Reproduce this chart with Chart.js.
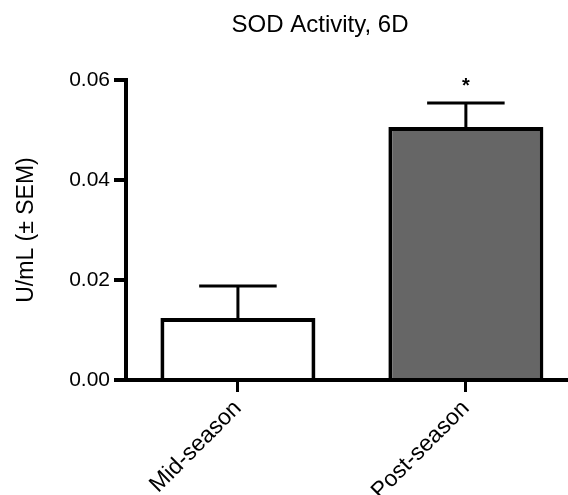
<!DOCTYPE html>
<html><head><meta charset="utf-8">
<script src="https://cdn.jsdelivr.net/npm/chart.js@4"></script>
<style>html,body{margin:0;padding:0;background:#fff;overflow:hidden}#c{display:block}</style>
</head><body>
<canvas id="c" width="568" height="495"></canvas>
<script>
const categories = ['Mid-season', 'Post-season'];
const means = [0.0124, 0.0506];
const sems = [0.0064, 0.0048];
const significance = ['', '*'];
const yTicks = [0, 0.02, 0.04, 0.06];
const titleText = 'SOD Activity, 6D';
const yTitle = 'U/mL (\u00B1 SEM)';
const fills = ['#ffffff', '#666666'];

const FONT = "'Liberation Sans', Arial, sans-serif";

const errorBars = {
  id: 'errorBars',
  afterDatasetsDraw(chart) {
    const { ctx, scales: { y } } = chart;
    const meta = chart.getDatasetMeta(0);
    ctx.save();
    ctx.strokeStyle = '#000';
    ctx.lineWidth = 3;
    meta.data.forEach((bar, i) => {
      const cx = bar.x;
      const top = y.getPixelForValue(means[i] + sems[i]);
      const base = y.getPixelForValue(means[i]);
      const half = bar.width * 0.25;
      ctx.beginPath();
      ctx.moveTo(cx, base); ctx.lineTo(cx, top);
      ctx.moveTo(cx - half, top); ctx.lineTo(cx + half, top);
      ctx.stroke();
      if (significance[i]) {
        ctx.fillStyle = '#000';
        ctx.font = `bold 20px ${FONT}`;
        ctx.textAlign = 'center';
        ctx.textBaseline = 'middle';
        ctx.fillText(significance[i], cx, top - 17);
      }
    });
    ctx.restore();
  }
};

const titlePlugin = {
  id: 'titleText',
  afterDraw(chart) {
    const { ctx } = chart;
    ctx.save();
    ctx.fillStyle = '#000';
    ctx.font = `24px ${FONT}`;
    ctx.textAlign = 'center';
    ctx.textBaseline = 'alphabetic';
    ctx.fillText(titleText, 320, 32);
    ctx.restore();
  }
};

new Chart(document.getElementById('c'), {
  type: 'bar',
  data: {
    datasets: [{
      data: categories.map((c, i) => ({ x: i, y: means[i] })),
      backgroundColor: fills,
      borderColor: '#000',
      borderWidth: 4,
      borderSkipped: 'bottom',
      barPercentage: 0.68,
      categoryPercentage: 1
    }]
  },
  options: {
    responsive: false,
    animation: false,
    layout: { padding: { top: 80, right: 0, left: 0, bottom: 0 } },
    plugins: { legend: { display: false }, tooltip: { enabled: false }, title: { display: false } },
    scales: {
      x: {
        type: 'linear',
        offset: false,
        min: -0.491,
        max: 1.448,
        afterBuildTicks: s => { s.ticks = categories.map((c, i) => ({ value: i })); },
        afterFit: s => { s.height = 115; },
        ticks: {
          autoSkip: false,
          minRotation: 45, maxRotation: 45,
          color: '#000',
          font: { family: FONT, size: 23 },
          padding: 3,
          callback: v => categories[Math.round(v)]
        },
        grid: { offset: false, drawOnChartArea: false, drawTicks: true, tickLength: 12, color: '#000', lineWidth: 3 },
        border: { display: true, color: '#000', width: 4 }
      },
      y: {
        min: 0,
        max: 0.06,
        afterBuildTicks: s => { s.ticks = yTicks.map(v => ({ value: v })); },
        afterFit: s => { s.width = 126; },
        ticks: {
          color: '#000',
          font: { family: FONT, size: 21 },
          padding: 4,
          callback: v => Number(v).toFixed(2)
        },
        title: {
          display: true,
          text: yTitle,
          color: '#000',
          font: { family: FONT, size: 23 },
          padding: { top: 13, bottom: 0 }
        },
        grid: { drawOnChartArea: false, drawTicks: true, tickLength: 12, color: '#000', lineWidth: 4 },
        border: { display: true, color: '#000', width: 4 }
      }
    }
  },
  plugins: [errorBars, titlePlugin]
});
</script>
</body></html>
